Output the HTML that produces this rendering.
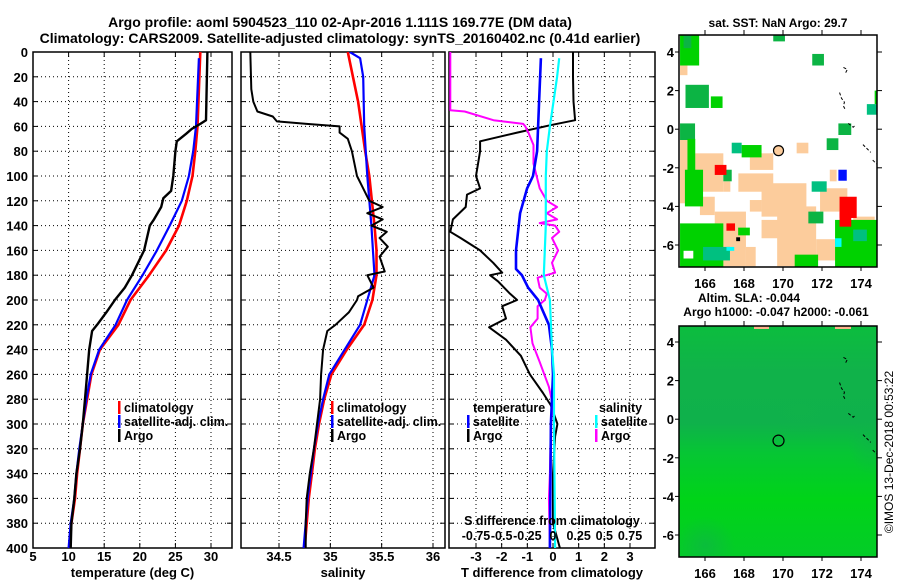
<!DOCTYPE html>
<html><head><meta charset="utf-8"><style>
html,body{margin:0;padding:0;background:#fff;}
svg{display:block;font-family:"Liberation Sans",sans-serif;font-weight:bold;}
</style></head><body>
<svg id="c" width="900" height="580" viewBox="0 0 900 580" xmlns="http://www.w3.org/2000/svg">
<defs>
<clipPath id="cp1"><rect x="33" y="52" width="199" height="496"/></clipPath>
<clipPath id="cp2"><rect x="241" y="52" width="204" height="496"/></clipPath>
<clipPath id="cp3"><rect x="449" y="52" width="206" height="496"/></clipPath>
<clipPath id="cpm1"><rect x="679" y="35" width="198" height="232"/></clipPath>
<clipPath id="cpm2"><rect x="679" y="326" width="198" height="231"/></clipPath>
<linearGradient id="slag" x1="0" y1="0" x2="0" y2="1">
<stop offset="0" stop-color="#0cbd3e"/><stop offset="0.2" stop-color="#10b24a"/><stop offset="0.42" stop-color="#0fb14b"/><stop offset="0.55" stop-color="#06c634"/><stop offset="0.75" stop-color="#00d418"/><stop offset="1" stop-color="#04cc28"/>
</linearGradient>
<radialGradient id="blob1" cx="0.5" cy="0.5" r="0.5"><stop offset="0" stop-color="#10b24a" stop-opacity="0.6"/><stop offset="1" stop-color="#10b24a" stop-opacity="0"/></radialGradient>
</defs>
<text x="340" y="27" text-anchor="middle" font-size="14">Argo profile: aoml 5904523_110 02-Apr-2016 1.111S 169.77E (DM data)</text>
<text x="340" y="43" text-anchor="middle" font-size="14">Climatology: CARS2009. Satellite-adjusted climatology: synTS_20160402.nc (0.41d earlier)</text>
<text x="778" y="27" text-anchor="middle" font-size="12">sat. SST: NaN Argo: 29.7</text>
<text x="749" y="302" text-anchor="middle" font-size="12">Altim. SLA: -0.044</text>
<text x="776" y="316" text-anchor="middle" font-size="12">Argo h1000: -0.047 h2000: -0.061</text>
<text transform="translate(893,452) rotate(-90)" text-anchor="middle" font-size="12" font-weight="normal">©IMOS 13-Dec-2018 00:53:22</text>
<g id="g"></g>
</svg>
<script>
// ---------- Data ----------
const depthTicks = [0,20,40,60,80,100,120,140,160,180,200,220,240,260,280,300,320,340,360,380,400];
const tempTicks = [5,10,15,20,25,30];
const salTicks = [34.5,35,35.5,36];
const tdiffTicks = [-3,-2,-1,0,1,2,3];
const sdiffTickLabels = ["-0.75","-0.5","-0.25","0","0.25","0.5","0.75"];
const sdiffTickValues = [-0.75,-0.5,-0.25,0,0.25,0.5,0.75];

const tClimDepth = [0,60,80,100,120,140,160,180,200,220,240,260,280,300,320,340,360,380,400];
const tClim = [28.5,28.1,27.8,27.4,26.6,25.5,23.7,21.3,18.7,17.0,14.4,13.2,12.6,12.0,11.6,11.2,10.9,10.4,10.1];
const tSatDepth = [5,60,80,100,120,140,160,180,200,220,240,260,280,300,320,340,360,380,400];
const tSat = [28.3,27.9,27.5,26.9,25.9,24.2,22.4,20.4,18.2,16.6,14.3,13.1,12.5,12.0,11.5,11.1,10.8,10.3,10.0];
const tArgoDepth = [0,55,58,62,66,72,80,100,112,118,125,135,140,160,180,190,200,210,220,225,240,260,280,300,320,340,360,380,400];
const tArgo = [29.5,29.3,28.5,27.3,26.5,25.2,25.0,24.7,24.4,23.3,23.0,22.0,21.4,20.6,18.9,17.9,16.5,15.3,14.0,13.3,12.9,12.6,12.3,12.0,11.6,11.1,10.8,10.4,10.3];

const sClimDepth = [0,40,80,100,140,160,180,200,220,240,260,280,300,320,340,360,380,400];
const sClim = [35.17,35.27,35.34,35.38,35.43,35.45,35.45,35.41,35.33,35.16,35.01,34.94,34.89,34.85,34.82,34.79,34.77,34.75];
const sSatDepth = [0,5,20,60,100,140,180,200,220,240,260,280,300,320,340,360,380,400];
const sSat = [35.19,35.29,35.32,35.33,35.36,35.40,35.43,35.36,35.29,35.14,34.99,34.93,34.88,34.84,34.81,34.78,34.76,34.74];
const sArgoDepth = [0,30,40,48,52,56,58,60,65,70,80,100,110,120,125,130,135,140,145,150,157,165,177,180,190,197,200,210,220,225,240,260,280,300,320,340,360,380,400];
const sArgo = [34.22,34.23,34.25,34.29,34.44,34.48,34.77,35.09,35.09,35.17,35.21,35.26,35.32,35.38,35.51,35.36,35.51,35.40,35.55,35.48,35.56,35.48,35.53,35.36,35.42,35.27,35.26,35.18,35.05,34.97,34.93,34.91,34.90,34.87,34.84,34.80,34.77,34.76,34.76];

const dTArgoDepth = [0,20,40,55,59,65,72,80,100,110,115,125,135,145,150,160,170,178,180,185,195,200,205,215,222,232,245,260,275,285,300,310,340,380,400];
const dTArgo = [0.78,0.78,0.8,0.86,-0.1,-1.4,-2.84,-2.84,-3.0,-2.84,-3.35,-3.4,-3.9,-4.0,-3.6,-2.84,-2.33,-1.98,-2.45,-2.14,-1.67,-1.4,-1.98,-1.83,-2.49,-1.83,-1.25,-0.9,-0.39,-0.08,0.17,0.08,0.0,0.0,0.27];
const dTSatDepth = [5,40,80,100,110,130,160,175,180,190,200,220,240,260,300,400];
const dTSat = [-0.47,-0.54,-0.62,-0.78,-1.01,-1.28,-1.44,-1.44,-1.21,-0.97,-0.58,-0.16,-0.04,0.0,-0.08,-0.12];
const dSSatDepth = [5,20,60,80,100,140,180,200,240,260,300,400];
const dSSat = [0.06,0.04,-0.03,-0.06,-0.07,-0.07,-0.09,-0.03,-0.01,0.01,0.01,0.02];
const dSArgoDepth = [0,28,47,48,55,58,60,65,75,90,100,110,120,125,130,135,138,140,145,150,160,170,178,182,190,195,200,205,215,222,235,250,270,285,300,340,360,400];
const dSArgo = [-1.0,-1.0,-1.0,-0.86,-0.58,-0.29,-0.27,-0.24,-0.19,-0.19,-0.16,-0.13,-0.06,0.04,-0.06,0.04,-0.13,0.02,0.06,-0.01,0.05,-0.01,0.02,-0.15,-0.13,-0.06,-0.08,-0.15,-0.15,-0.22,-0.2,-0.13,-0.04,0.0,-0.02,-0.03,-0.04,-0.03];

// Map 1 cells: [lon0, lat0, lon1, lat1, colorKey]
const sstCells = [
[164.72,-0.56,165.49,-3.84,"p"],[165.49,-1.25,166.94,-3.24,"p"],[166.94,-2.7,167.3,-3.24,"p"],
[167.71,-2.29,169.5,-3.24,"p"],[168.3,-1.25,169.5,-2.11,"p"],[168.9,-2.8,171.2,-4.53,"p"],
[169.7,-4.0,171.7,-7.1,"p"],[170.7,-0.7,171.3,-1.25,"p"],[171.9,-3.06,173.3,-4.27,"p"],
[166.5,-4.27,168.1,-7.1,"p"],[165.74,-3.5,166.5,-4.45,"p"],[168.3,-3.67,168.9,-4.27,"p"],
[168.1,-6.1,168.6,-7.1,"p"],[173.6,-4.53,174.7,-5.22,"p"],[171.7,-5.7,172.7,-6.8,"p"],
[172.4,-2.1,172.75,-2.7,"p"],[168.9,-4.7,169.8,-5.65,"p"],[164.72,3.3,165.1,2.8,"p"],
[164.72,4.88,165.7,3.3,"g"],[164.9,4.88,165.3,4.2,"d"],[165.0,2.3,166.2,1.1,"d"],[166.3,1.7,166.9,1.1,"g"],
[169.5,4.88,170.1,4.55,"d"],[171.5,3.9,172.1,3.3,"d"],[174.3,1.3,174.82,0.75,"t"],[174.7,2.0,174.82,1.3,"g"],
[164.72,0.3,165.49,-0.56,"d"],[165.1,-0.5,165.5,-2.5,"g"],[164.97,-2.1,165.9,-4.0,"g"],
[167.37,-0.7,167.88,-1.25,"t"],[167.88,-0.82,168.9,-1.46,"g"],[172.24,-0.47,172.84,-1.08,"d"],
[172.84,0.3,173.5,-0.3,"d"],[171.47,-2.7,172.24,-3.24,"t"],[171.3,-4.27,172.07,-4.88,"d"],
[164.72,-4.88,166.94,-7.14,"g"],[164.9,-6.3,165.4,-6.7,"w"],[165.9,-6.1,167.28,-6.8,"t"],
[172.67,-4.7,174.82,-7.14,"g"],[173.6,-5.2,174.3,-5.8,"t"],[170.6,-6.5,171.8,-7.14,"g"],
[166.94,-2.1,167.37,-2.7,"d"],[167.7,-5.1,168.3,-5.5,"g"],
[166.5,-1.85,167.1,-2.37,"r"],[172.9,-3.5,173.78,-4.6,"r"],[172.9,-4.3,173.5,-5.05,"r"],[167.1,-4.88,167.54,-5.26,"r"],
[172.84,-2.1,173.27,-2.67,"b"],[172.67,-5.65,173.0,-6.1,"c"],[167.1,-6.1,167.5,-6.3,"c"],[167.6,-5.6,167.8,-5.8,"k"]
];
const cellColors = {p:"#fccc9c",g:"#00d200",d:"#0cb444",t:"#00c080",r:"#ff0000",b:"#0010ff",c:"#00ffff",k:"#000000",w:"#ffffff"};
const argoLon = 169.77, argoLat = -1.111;
const mapLonTicks = [166,168,170,172,174];
const mapLatTicks = [4,2,0,-2,-4,-6];
const coastLon = [[173.1,173.3,173.2],[172.9,173.0,173.15,173.1,173.2],[173.35,173.6,173.7],[174.1,174.3,174.5],[174.6,174.8]];
const coastLat = [[3.2,3.1,2.9],[1.9,1.6,1.4,1.2,1.0],[0.3,0.1,0.2],[-0.8,-1.0,-1.2],[-1.6,-1.8]];

// ---------- Drawing ----------
const NS="http://www.w3.org/2000/svg";
const G=document.getElementById('g');
function mk(tag,attrs,parent){const e=document.createElementNS(NS,tag);for(const k in attrs)e.setAttribute(k,attrs[k]);(parent||G).appendChild(e);return e;}
const Y0=52,Y1=548;
function yD(d){return Y0+(d/400)*(Y1-Y0);}
function lin(d0,d1,r0,r1){return v=>r0+(v-d0)*(r1-r0)/(d1-d0);}

const panels=[
 {x0:33,x1:232,sx:lin(5,30,33,211),ticks:tempTicks,labels:tempTicks.map(String),clip:"cp1",title:"temperature (deg C)",name:"temperature-panel"},
 {x0:241,x1:445,sx:lin(34.5,36,279,433),ticks:salTicks,labels:salTicks.map(String),clip:"cp2",title:"salinity",name:"salinity-panel"},
 {x0:449,x1:655,sx:lin(-3,3,476,630),ticks:tdiffTicks,labels:tdiffTicks.map(String),clip:"cp3",title:"T difference from climatology",name:"difference-panel"}
];
const sxS = lin(-0.75,0.75,476,630);

panels.forEach((p,pi)=>{
 const grp=mk('g',{});
 
 
 p.ticks.forEach(t=>{const x=p.sx(t);const l=mk('line',{x1:x,y1:Y0,x2:x,y2:Y1,stroke:"#000","stroke-width":1,"stroke-dasharray":"1,3"},grp);
  
  mk('line',{x1:x,y1:Y1,x2:x,y2:Y1-5,stroke:"#000"},grp);mk('line',{x1:x,y1:Y0,x2:x,y2:Y0+5,stroke:"#000"},grp);});
 depthTicks.forEach(d=>{const y=yD(d);
  if(d>0&&d<400){const l=mk('line',{x1:p.x0,y1:y,x2:p.x1,y2:y,stroke:"#000","stroke-width":1,"stroke-dasharray":"1,3"},grp);
   }
  mk('line',{x1:p.x0,y1:y,x2:p.x0+5,y2:y,stroke:"#000"},grp);mk('line',{x1:p.x1,y1:y,x2:p.x1-5,y2:y,stroke:"#000"},grp);});
 const fr=mk('rect',{x:p.x0,y:Y0,width:p.x1-p.x0,height:Y1-Y0,fill:"none",stroke:"#000","stroke-width":1.5},grp);
 
 p.ticks.forEach((t,i)=>{const tx=mk('text',{x:p.sx(t),y:561,"text-anchor":"middle","font-size":13},grp);tx.textContent=p.labels[i];
  });
 const at=mk('text',{x:(p.x0+p.x1)/2,y:577,"text-anchor":"middle","font-size":13},grp);at.textContent=p.title;
 
});
depthTicks.forEach(d=>{const t=mk('text',{x:28,y:yD(d)+5,"text-anchor":"end","font-size":13});t.textContent=String(d);
 });

function series(depths,vals,sx,color,clip,name,w){
 const pts=depths.map((d,i)=>sx(vals[i]).toFixed(1)+","+yD(d).toFixed(1)).join(" ");
 const pl=mk('polyline',{points:pts,fill:"none",stroke:color,"stroke-width":w||2.2,"clip-path":"url(#"+clip+")","stroke-linejoin":"round"});
 
 
}
series(tClimDepth,tClim,panels[0].sx,"#ff0000","cp1","temp-climatology-line",2.6);
series(tSatDepth,tSat,panels[0].sx,"#0000ff","cp1","temp-satellite-line");
series(tArgoDepth,tArgo,panels[0].sx,"#000","cp1","temp-argo-line",2.4);
series(sClimDepth,sClim,panels[1].sx,"#ff0000","cp2","salinity-climatology-line",2.6);
series(sSatDepth,sSat,panels[1].sx,"#0000ff","cp2","salinity-satellite-line");
series(sArgoDepth,sArgo,panels[1].sx,"#000","cp2","salinity-argo-line",2);
series(dTArgoDepth,dTArgo,panels[2].sx,"#000","cp3","t-diff-argo-line",2);
series(dSArgoDepth,dSArgo,sxS,"#ff00ff","cp3","s-diff-argo-line",2);
series(dTSatDepth,dTSat,panels[2].sx,"#0000ff","cp3","t-diff-satellite-line",2.6);
series(dSSatDepth,dSSat,sxS,"#00ffff","cp3","s-diff-satellite-line",2.2);

function legend(x,y,color,label,name){
 const g=mk('g',{});
 
 
 mk('rect',{x:x,y:y-11,width:2.5,height:13,fill:color},g);
 const t=mk('text',{x:x+6,y:y,"font-size":12.5},g);t.textContent=label;
}
legend(118,412,"#ff0000","climatology","legend-climatology");
legend(118,426,"#0000ff","satellite-adj. clim.","legend-satellite-adj");
legend(118,440,"#000","Argo","legend-argo");
legend(331,412,"#ff0000","climatology","legend-sal-climatology");
legend(331,426,"#0000ff","satellite-adj. clim.","legend-sal-satellite-adj");
legend(331,440,"#000","Argo","legend-sal-argo");
let tt=mk('text',{x:473,y:412,"font-size":12.5});tt.textContent="temperature";

tt=mk('text',{x:599,y:412,"font-size":12.5});tt.textContent="salinity";

legend(467,426,"#0000ff","satellite","legend-tdiff-satellite");
legend(467,440,"#000","Argo","legend-tdiff-argo");
legend(595,426,"#00ffff","satellite","legend-sdiff-satellite");
legend(595,440,"#ff00ff","Argo","legend-sdiff-argo");
tt=mk('text',{x:552,y:525,"text-anchor":"middle","font-size":12.5});tt.textContent="S difference from climatology";

sdiffTickValues.forEach((v,i)=>{const t=mk('text',{x:sxS(v),y:540,"text-anchor":"middle","font-size":12.5});t.textContent=sdiffTickLabels[i];
 });

// ---------- Maps ----------
const mx=lin(166,174,705,861);
function mapAxes(y0,y1,ly,name,grp){
 const my=lin(4,-6,ly[0],ly[1]);
 mapLonTicks.forEach(l=>{const x=mx(l);mk('line',{x1:x,y1:y0,x2:x,y2:y0-5,stroke:"#000"},grp);mk('line',{x1:x,y1:y1,x2:x,y2:y1+4,stroke:"#000"},grp);
  const t=mk('text',{x:x,y:y1+21,"text-anchor":"middle","font-size":13},grp);t.textContent=String(l);
  });
 mapLatTicks.forEach(l=>{const y=my(l);mk('line',{x1:877,y1:y,x2:882,y2:y,stroke:"#000"},grp);mk('line',{x1:679,y1:y,x2:675,y2:y,stroke:"#000"},grp);
  const t=mk('text',{x:674,y:y+5,"text-anchor":"end","font-size":13},grp);t.textContent=String(l);
  });
 return my;
}
const m1=mk('g',{});


const my1=lin(4,-6,52,245);
const cg=mk('g',{"clip-path":"url(#cpm1)"},m1);
sstCells.forEach(c=>{const x0=mx(c[0]),x1=mx(c[2]),y0=my1(c[1]),y1=my1(c[3]);
 const r=mk('rect',{x:Math.min(x0,x1),y:Math.min(y0,y1),width:Math.abs(x1-x0),height:Math.abs(y1-y0),fill:cellColors[c[4]]},cg);
 });
function coasts(my,parent){coastLon.forEach((ln,i)=>{const pts=ln.map((l,j)=>mx(l)+","+my(coastLat[i][j])).join(" ");
 const p=mk('polyline',{points:pts,fill:"none",stroke:"#000","stroke-width":1,"stroke-dasharray":"3,2"},parent);
 });}
coasts(my1,m1);
let ci=mk('circle',{cx:mx(argoLon),cy:my1(argoLat),r:5,fill:"#fccc9c",stroke:"#000","stroke-width":1.2},m1);

mk('rect',{x:679,y:35,width:198,height:232,fill:"none",stroke:"#000","stroke-width":1.5},m1);
mapAxes(35,267,[52,245],"m1",m1);
const m2=mk('g',{});


const my2=lin(4,-6,342,535);
const m2c=mk('g',{"clip-path":"url(#cpm2)"},m2);
mk('rect',{x:679,y:326,width:198,height:231,fill:"url(#slag)"},m2c);
mk('ellipse',{cx:705,cy:545,rx:30,ry:28,fill:"url(#blob1)"},m2c);
mk('ellipse',{cx:870,cy:440,rx:22,ry:35,fill:"url(#blob1)"},m2c);
mk('ellipse',{cx:800,cy:410,rx:40,ry:25,fill:"url(#blob1)"},m2c);
mk('rect',{x:754,y:326,width:15,height:3,fill:"#fcb48c"},m2c);
mk('rect',{x:835,y:326,width:16,height:3,fill:"#fcb48c"},m2c);
coasts(my2,m2);
ci=mk('circle',{cx:mx(argoLon),cy:my2(argoLat),r:5.5,fill:"none",stroke:"#000","stroke-width":1.2},m2);

mk('rect',{x:679,y:326,width:198,height:231,fill:"none",stroke:"#000","stroke-width":1.5},m2);
mapAxes(326,557,[342,535],"m2",m2);
</script>
</body></html>
